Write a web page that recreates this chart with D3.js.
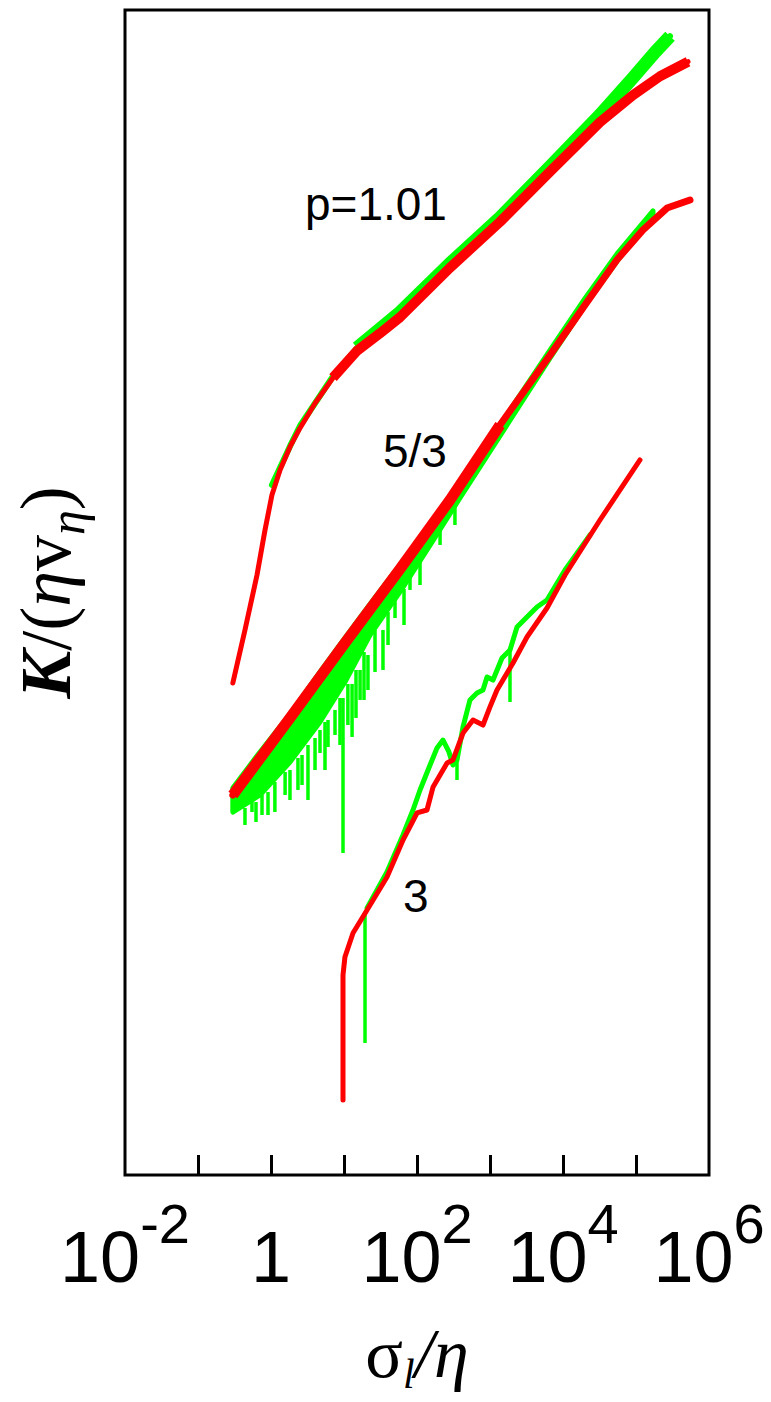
<!DOCTYPE html>
<html>
<head>
<meta charset="utf-8">
<script src="https://cdn.jsdelivr.net/npm/d3@7"></script>
<style>
  html, body { margin: 0; padding: 0; background: #fff; }
  svg { display: block; }
</style>
</head>
<body>
<svg id="chart"></svg>
<script>
// ---- data (x = sigma_l / eta, y = log10 K, arbitrary offset) ----
const xTicks = [1e-1, 1, 1e1, 1e2, 1e3, 1e4, 1e5];
const xLabelValues = [1e-2, 1, 1e2, 1e4, 1e6];
const xLabelBase = ["10", "1", "10", "10", "10"];
const xLabelExp = ["-2", "", "2", "4", "6"];

// p = 1.01
const p1Red = [[0.30,6.757],[0.44,7.485],[0.643,8.240],[0.828,8.859],[1.03,9.339],[1.33,9.683],
  [1.82,9.999],[2.50,10.26],[4.01,10.60],[7.07,10.95],[15.1,11.32],[31.1,11.56],[58.5,11.78],
  [283,12.46],[1371,13.09],[6637,13.78],[32120,14.46],[90990,14.83],[213200,15.09],[515600,15.29]];
const p1Green = [[1.03,9.477],[1.82,10.01],[2.50,10.29],[7.07,10.97],[15.1,11.36],[58.5,11.85],
  [283,12.52],[1371,13.15],[6637,13.85],[32120,14.56],[90990,15.07],[182100,15.42],[292300,15.64]];

// p = 5/3
const p53Red = [[0.30,5.219],[1.82,6.277],[10.3,7.307],[58.5,8.323],[283,9.271],[1371,10.30],
  [6637,11.26],[20010,11.95],[54920,12.57],[124700,12.98],[265900,13.28],[549200,13.39]];
const p53GreenX  = [0.30, 0.707, 1.82, 4.69, 10.3, 22.7, 58.5, 151, 388, 1371, 6637, 20010, 54920, 171000];
const p53GreenHi = [5.315, 5.81, 6.33, 6.91, 7.375, 7.84, 8.38, 8.93, 9.48, 10.30, 11.33, 12.04, 12.65, 13.24];
const p53GreenLo = [4.985, 5.219, 5.672, 6.222, 6.771, 7.416, 8.01, 8.65, 9.30, 10.15, 11.22, 11.94, 12.55, 13.17];
// downward dips of the green 5/3 curve: [x, top, bottom]
const p53Spikes = [[0.440,5.040,4.807],[0.549,5.150,4.985],[0.623,5.123,4.848],[0.753,5.219,4.944],
  [0.910,5.260,4.944],[1.13,5.397,4.985],[1.56,5.535,5.219],[1.82,5.562,5.150],[2.34,5.727,5.288],
  [2.66,5.768,5.356],[3.21,5.906,5.150],[4.01,6.002,5.562],[4.69,6.112,5.796],[5.49,6.222,5.562],
  [6.04,6.249,5.878],[7.53,6.387,6.043],[8.81,6.551,5.906],[9.69,6.551,4.422],[11.3,6.744,6.180],
  [12.9,6.744,6.016],[14.6,6.936,6.277],[16.6,6.936,6.524],[18.8,7.183,6.524],[21.3,7.142,6.661],
  [26.6,7.485,6.908],[34.2,7.485,6.936],[40.1,7.732,7.279],[50.0,7.897,7.650],[66.4,8.048,7.554],
  [80.2,8.199,8.035],[110,8.447,8.103],[207,8.859,8.653],[331,9.202,8.927]];

// p = 3
const p3Red = [[9.69,1.030],[9.69,2.747],[10.3,2.994],[13.3,3.324],[20.7,3.640],[38.8,4.093],
  [64.3,4.601],[100,4.972],[137,5.013],[166,5.329],[258,5.658],[311,5.700],[427,6.070],
  [585,6.249],[802,6.180],[1000,6.428],[1247,6.661],[2066,7.032],[3212,7.389],[6037,7.787],
  [10650,8.240],[32120,8.996],[113400,9.820]];
const p3Green = [[20.7,3.667],[38.8,4.161],[64.3,4.670],[88.2,5.013],[110,5.288],[151,5.631],
  [188,5.864],[227,5.974],[274,5.810],[311,5.631],[353,5.700],[427,6.153],[532,6.524],
  [664,6.620],[802,6.661],[910,6.840],[1100,6.798],[1460,7.101],[1879,7.210],[2344,7.526],
  [3212,7.664],[4403,7.801],[6037,7.897],[10650,8.309],[23440,8.790]];
const p3Spikes = [[19.4,3.571,1.813],[353,5.700,5.425],[1879,7.210,6.496]];

// curve labels: [text, x, y]
const curveLabels = [["p=1.01", 2.92, 13.12], ["5/3", 34.2, 9.72], ["3", 64.3, 3.61]];

// ---- layout ----
const width = 771, height = 1402;
const margin = {top: 10, right: 62, bottom: 227, left: 125};

const svg = d3.select("#chart").attr("width", width).attr("height", height);

const xScale = d3.scaleLog().domain([1e-2, 1e6]).range([margin.left, width - margin.right]);
const yScale = d3.scaleLinear().domain([0, 16]).range([height - margin.bottom, margin.top]);

const line = d3.line().x(d => xScale(d[0])).y(d => yScale(d[1]));

const RED = "#ff0000", GREEN = "#00ff00";

function drawLine(data, color, w, cap = "round") {
  svg.append("path")
    .datum(data)
    .attr("d", line)
    .attr("fill", "none")
    .attr("stroke", color)
    .attr("stroke-width", w)
    .attr("stroke-linejoin", "round")
    .attr("stroke-linecap", cap);
}

// green (underneath)
drawLine(p1Green, GREEN, 6);
drawLine(p1Green.filter(d => d[0] >= 15), GREEN, 13, "butt");

const bandData = p53GreenX.map((x, i) => [x, p53GreenLo[i], p53GreenHi[i]]);
svg.append("path")
  .datum(bandData)
  .attr("d", d3.area().x(d => xScale(d[0])).y0(d => yScale(d[1])).y1(d => yScale(d[2])))
  .attr("fill", GREEN)
  .attr("stroke", GREEN)
  .attr("stroke-width", 5)
  .attr("stroke-linejoin", "round");

svg.append("g").selectAll("line")
  .data(p53Spikes.concat(p3Spikes))
  .join("line")
  .attr("x1", d => xScale(d[0])).attr("x2", d => xScale(d[0]))
  .attr("y1", d => yScale(d[1])).attr("y2", d => yScale(d[2]))
  .attr("stroke", GREEN)
  .attr("stroke-width", 3.5);

drawLine(p3Green, GREEN, 5);

// red (on top)
drawLine(p1Red, RED, 5);
drawLine(p1Red.filter(d => d[0] >= 7), RED, 10, "butt");
drawLine(p53Red, RED, 7);
drawLine(p53Red.filter(d => d[0] <= 1371), RED, 11, "butt");
drawLine(p3Red, RED, 5);

// curve labels
svg.append("g").selectAll("text")
  .data(curveLabels)
  .join("text")
  .attr("x", d => xScale(d[1]))
  .attr("y", d => yScale(d[2]))
  .attr("font-family", "'Liberation Sans', Arial, sans-serif")
  .attr("font-size", 46)
  .attr("fill", "#000")
  .text(d => d[0]);

// frame
svg.append("rect")
  .attr("x", margin.left).attr("y", margin.top)
  .attr("width", width - margin.left - margin.right)
  .attr("height", height - margin.top - margin.bottom)
  .attr("fill", "none")
  .attr("stroke", "#000")
  .attr("stroke-width", 3);

// x ticks (inside)
const xAxis = d3.axisBottom(xScale).tickValues(xTicks).tickFormat("").tickSize(-20);
const gx = svg.append("g")
  .attr("transform", `translate(0,${height - margin.bottom})`)
  .call(xAxis);
gx.select(".domain").remove();
gx.selectAll(".tick line").attr("stroke", "#000").attr("stroke-width", 3);

// x tick labels
const labels = svg.append("g")
  .attr("font-family", "'Liberation Sans', Arial, sans-serif")
  .attr("fill", "#000");
xLabelValues.forEach((v, i) => {
  const t = labels.append("text")
    .attr("x", xScale(v))
    .attr("y", 1282)
    .attr("text-anchor", "middle")
    .attr("font-size", 72);
  t.append("tspan").text(xLabelBase[i]);
  if (xLabelExp[i] !== "") {
    t.append("tspan").attr("font-size", 56).attr("dy", -39).text(xLabelExp[i]);
  }
});

// x title: sigma_l / eta
const xt = svg.append("text")
  .attr("x", (margin.left + width - margin.right) / 2)
  .attr("y", 1377)
  .attr("text-anchor", "middle")
  .attr("font-family", "'Liberation Serif', 'Times New Roman', serif")
  .attr("font-size", 70)
  .attr("fill", "#000");
xt.append("tspan").text("σ");
xt.append("tspan").attr("font-style", "italic").attr("font-size", 42).attr("dy", 11).text("l");
xt.append("tspan").attr("font-style", "italic").attr("dy", -11).text("/η");

// y title: K/(eta v_eta)
const yt = svg.append("text")
  .attr("transform", `translate(70,${(margin.top + height - margin.bottom) / 2}) rotate(-90)`)
  .attr("text-anchor", "middle")
  .attr("font-family", "'Liberation Serif', 'Times New Roman', serif")
  .attr("font-size", 72)
  .attr("fill", "#000");
yt.append("tspan").attr("font-style", "italic").attr("font-weight", "bold").text("K");
yt.append("tspan").text("/(");
yt.append("tspan").attr("font-style", "italic").text("η");
yt.append("tspan").text("v");
yt.append("tspan").attr("font-style", "italic").attr("font-size", 50).attr("dy", 14).text("η");
yt.append("tspan").attr("dy", -14).text(")");
</script>
</body>
</html>
